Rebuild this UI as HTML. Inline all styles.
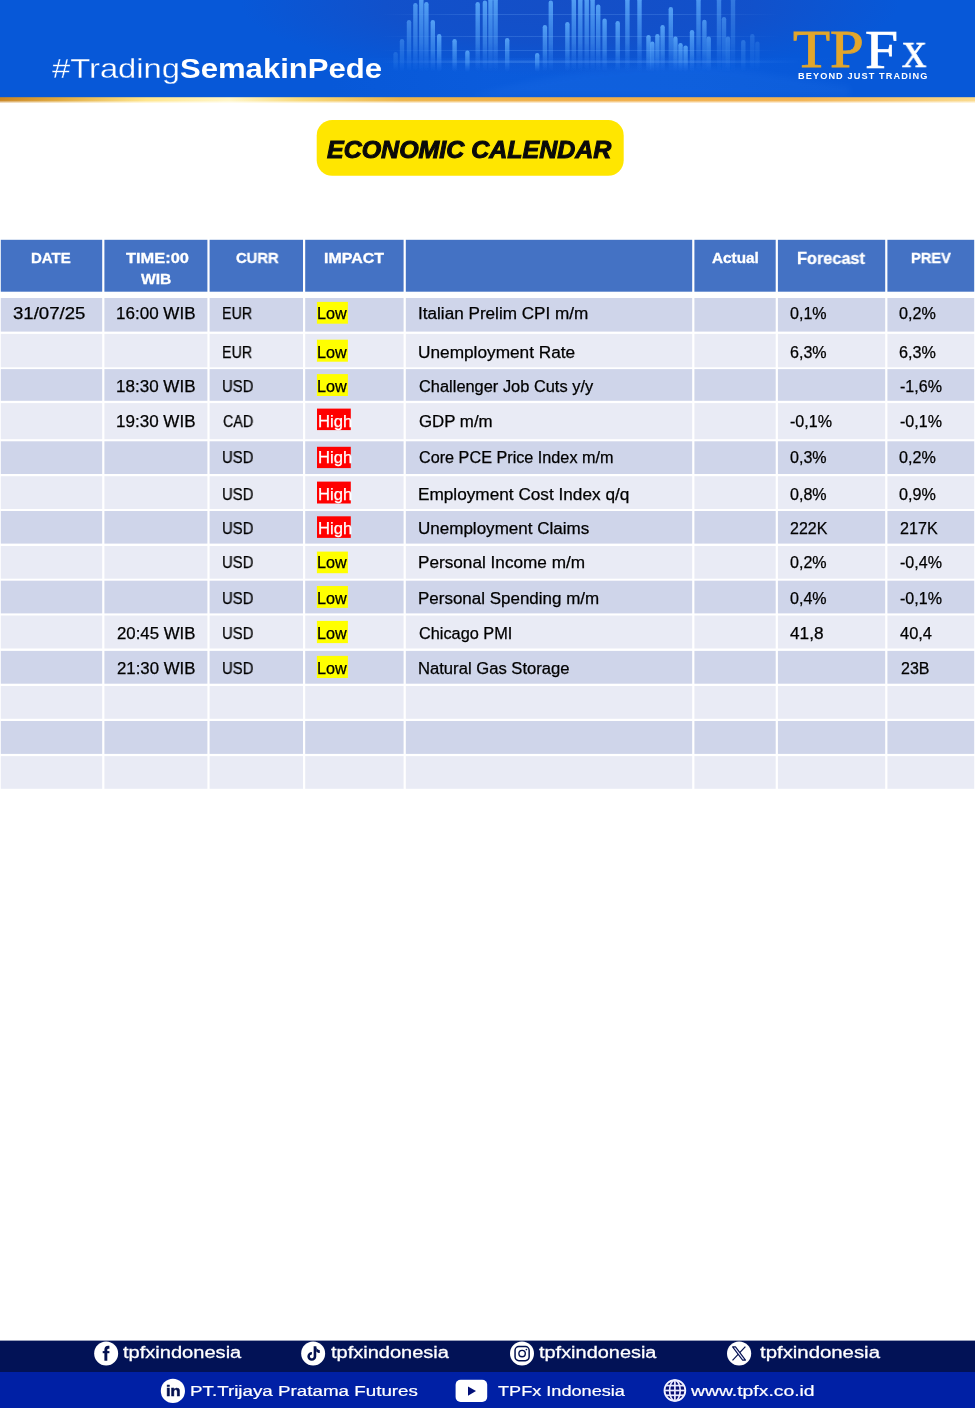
<!DOCTYPE html>
<html lang="en"><head><meta charset="utf-8"><title>Economic Calendar</title>
<style>
html,body{margin:0;padding:0;background:#fff}
body{width:975px;height:1408px;position:relative;overflow:hidden;font-family:"Liberation Sans", sans-serif}
svg.bg{position:absolute;left:0;top:0;display:block}
.t{position:absolute;white-space:nowrap;transform-origin:0 0;line-height:1;margin:0;padding:0;will-change:transform}
</style></head><body>
<svg class="bg" width="975" height="1408" viewBox="0 0 975 1408">
<defs>
<linearGradient id="gold" x1="0" x2="1" y1="0" y2="0">
<stop offset="0" stop-color="#C98522"/><stop offset="0.06" stop-color="#E0A93E"/><stop offset="0.15" stop-color="#FFE58A"/>
<stop offset="0.235" stop-color="#FFF6C8"/><stop offset="0.31" stop-color="#F8D877"/><stop offset="0.41" stop-color="#EDB54A"/>
<stop offset="0.6" stop-color="#F0AE48"/><stop offset="0.82" stop-color="#F2B352"/><stop offset="1" stop-color="#FAD98A"/>
</linearGradient>
<linearGradient id="goldfade" x1="0" x2="0" y1="0" y2="1"><stop offset="0" stop-color="#fff" stop-opacity="0"/><stop offset="1" stop-color="#fff" stop-opacity="1"/></linearGradient>
<linearGradient id="bar" x1="0" x2="0" y1="0" y2="1"><stop offset="0" stop-color="#5FAEFC" stop-opacity="0.85"/><stop offset="0.6" stop-color="#4FA0F8" stop-opacity="0.5"/><stop offset="1" stop-color="#3B8CFF" stop-opacity="0.0"/></linearGradient>
<linearGradient id="dusk" x1="0" x2="1" y1="0" y2="0"><stop offset="0" stop-color="#2A4DBE" stop-opacity="0"/><stop offset="0.2" stop-color="#2A4DBE" stop-opacity="0.4"/><stop offset="0.7" stop-color="#2A4DBE" stop-opacity="0.35"/><stop offset="1" stop-color="#2A4DBE" stop-opacity="0"/></linearGradient>
<linearGradient id="floor" x1="0" x2="1" y1="0" y2="0"><stop offset="0" stop-color="#1F6FF0" stop-opacity="0"/><stop offset="0.3" stop-color="#1F6FF0" stop-opacity="0.14"/><stop offset="0.7" stop-color="#1F6FF0" stop-opacity="0.12"/><stop offset="1" stop-color="#1F6FF0" stop-opacity="0"/></linearGradient>
<linearGradient id="gridh" x1="0" x2="1" y1="0" y2="0"><stop offset="0" stop-color="#7db8ff" stop-opacity="0"/><stop offset="0.25" stop-color="#7db8ff" stop-opacity="0.22"/><stop offset="0.75" stop-color="#7db8ff" stop-opacity="0.2"/><stop offset="1" stop-color="#7db8ff" stop-opacity="0"/></linearGradient>
<filter id="bl" x="-50%" y="-10%" width="200%" height="120%"><feGaussianBlur stdDeviation="0.7"/></filter>
<filter id="bl2" x="-10%" y="-30%" width="120%" height="160%"><feGaussianBlur stdDeviation="3"/></filter>
<radialGradient id="duskR" cx="0.5" cy="0.5" r="0.5"><stop offset="0" stop-color="#2245B5" stop-opacity="0.5"/><stop offset="0.55" stop-color="#2245B5" stop-opacity="0.38"/><stop offset="1" stop-color="#2245B5" stop-opacity="0"/></radialGradient>
</defs>
<rect x="0" y="0" width="975" height="98.5" fill="#0758D8"/>
<ellipse cx="570" cy="4" rx="330" ry="72" fill="url(#duskR)"/>
<rect x="330" y="58" width="520" height="40" fill="url(#floor)"/>
<rect x="393.4" y="52.0" width="4.4" height="20.0" rx="2.2" fill="url(#bar)" opacity="0.30" filter="url(#bl)"/>
<rect x="399.8" y="39.0" width="4.4" height="33.0" rx="2.2" fill="url(#bar)" opacity="0.49" filter="url(#bl)"/>
<rect x="406.8" y="20.0" width="4.4" height="52.0" rx="2.2" fill="url(#bar)" opacity="0.69" filter="url(#bl)"/>
<rect x="413.2" y="3.0" width="4.4" height="69.0" rx="2.2" fill="url(#bar)" opacity="0.87" filter="url(#bl)"/>
<rect x="419.1" y="-2.0" width="4.4" height="74.0" rx="2.2" fill="url(#bar)" opacity="1.00" filter="url(#bl)"/>
<rect x="424.2" y="2.0" width="4.4" height="70.0" rx="2.2" fill="url(#bar)" opacity="1.00" filter="url(#bl)"/>
<rect x="430.6" y="20.0" width="4.4" height="52.0" rx="2.2" fill="url(#bar)" opacity="1.00" filter="url(#bl)"/>
<rect x="437.0" y="34.0" width="4.4" height="38.0" rx="2.2" fill="url(#bar)" opacity="1.00" filter="url(#bl)"/>
<rect x="452.4" y="39.0" width="4.4" height="33.0" rx="2.2" fill="url(#bar)" opacity="1.00" filter="url(#bl)"/>
<rect x="465.2" y="50.6" width="4.4" height="21.4" rx="2.2" fill="url(#bar)" opacity="1.00" filter="url(#bl)"/>
<rect x="475.5" y="2.0" width="4.4" height="70.0" rx="2.2" fill="url(#bar)" opacity="1.00" filter="url(#bl)"/>
<rect x="482.7" y="0.6" width="4.4" height="71.4" rx="2.2" fill="url(#bar)" opacity="1.00" filter="url(#bl)"/>
<rect x="488.3" y="-2.0" width="4.4" height="74.0" rx="2.2" fill="url(#bar)" opacity="1.00" filter="url(#bl)"/>
<rect x="493.4" y="-2.0" width="4.4" height="74.0" rx="2.2" fill="url(#bar)" opacity="1.00" filter="url(#bl)"/>
<rect x="505.0" y="38.0" width="4.4" height="34.0" rx="2.2" fill="url(#bar)" opacity="1.00" filter="url(#bl)"/>
<rect x="535.0" y="53.0" width="4.4" height="19.0" rx="2.2" fill="url(#bar)" opacity="1.00" filter="url(#bl)"/>
<rect x="542.7" y="25.0" width="4.4" height="47.0" rx="2.2" fill="url(#bar)" opacity="1.00" filter="url(#bl)"/>
<rect x="548.6" y="0.6" width="4.4" height="71.4" rx="2.2" fill="url(#bar)" opacity="1.00" filter="url(#bl)"/>
<rect x="565.2" y="22.0" width="4.4" height="50.0" rx="2.2" fill="url(#bar)" opacity="1.00" filter="url(#bl)"/>
<rect x="571.6" y="-2.0" width="4.4" height="74.0" rx="2.2" fill="url(#bar)" opacity="1.00" filter="url(#bl)"/>
<rect x="578.1" y="-2.0" width="4.4" height="74.0" rx="2.2" fill="url(#bar)" opacity="1.00" filter="url(#bl)"/>
<rect x="584.5" y="-2.0" width="4.4" height="74.0" rx="2.2" fill="url(#bar)" opacity="1.00" filter="url(#bl)"/>
<rect x="590.4" y="-2.0" width="4.4" height="74.0" rx="2.2" fill="url(#bar)" opacity="1.00" filter="url(#bl)"/>
<rect x="596.0" y="4.4" width="4.4" height="67.6" rx="2.2" fill="url(#bar)" opacity="1.00" filter="url(#bl)"/>
<rect x="602.4" y="18.5" width="4.4" height="53.5" rx="2.2" fill="url(#bar)" opacity="1.00" filter="url(#bl)"/>
<rect x="615.5" y="21.0" width="4.4" height="51.0" rx="2.2" fill="url(#bar)" opacity="1.00" filter="url(#bl)"/>
<rect x="625.2" y="-2.0" width="4.4" height="74.0" rx="2.2" fill="url(#bar)" opacity="1.00" filter="url(#bl)"/>
<rect x="637.3" y="-2.0" width="4.4" height="74.0" rx="2.2" fill="url(#bar)" opacity="1.00" filter="url(#bl)"/>
<rect x="646.3" y="35.0" width="4.4" height="37.0" rx="2.2" fill="url(#bar)" opacity="1.00" filter="url(#bl)"/>
<rect x="650.1" y="41.6" width="4.4" height="30.4" rx="2.2" fill="url(#bar)" opacity="1.00" filter="url(#bl)"/>
<rect x="655.2" y="34.0" width="4.4" height="38.0" rx="2.2" fill="url(#bar)" opacity="1.00" filter="url(#bl)"/>
<rect x="660.4" y="25.0" width="4.4" height="47.0" rx="2.2" fill="url(#bar)" opacity="1.00" filter="url(#bl)"/>
<rect x="668.6" y="7.0" width="4.4" height="65.0" rx="2.2" fill="url(#bar)" opacity="1.00" filter="url(#bl)"/>
<rect x="673.2" y="36.5" width="4.4" height="35.5" rx="2.2" fill="url(#bar)" opacity="1.00" filter="url(#bl)"/>
<rect x="678.3" y="43.0" width="4.4" height="29.0" rx="2.2" fill="url(#bar)" opacity="1.00" filter="url(#bl)"/>
<rect x="683.4" y="45.4" width="4.4" height="26.6" rx="2.2" fill="url(#bar)" opacity="1.00" filter="url(#bl)"/>
<rect x="689.8" y="30.0" width="4.4" height="42.0" rx="2.2" fill="url(#bar)" opacity="0.98" filter="url(#bl)"/>
<rect x="696.3" y="-2.0" width="4.4" height="74.0" rx="2.2" fill="url(#bar)" opacity="0.91" filter="url(#bl)"/>
<rect x="702.2" y="19.8" width="4.4" height="52.2" rx="2.2" fill="url(#bar)" opacity="0.84" filter="url(#bl)"/>
<rect x="706.5" y="36.5" width="4.4" height="35.5" rx="2.2" fill="url(#bar)" opacity="0.79" filter="url(#bl)"/>
<rect x="716.8" y="-2.0" width="4.4" height="74.0" rx="2.2" fill="url(#bar)" opacity="0.68" filter="url(#bl)"/>
<rect x="721.8" y="17.0" width="4.4" height="55.0" rx="2.2" fill="url(#bar)" opacity="0.62" filter="url(#bl)"/>
<rect x="725.8" y="36.5" width="4.4" height="35.5" rx="2.2" fill="url(#bar)" opacity="0.58" filter="url(#bl)"/>
<rect x="730.8" y="-2.0" width="4.4" height="74.0" rx="2.2" fill="url(#bar)" opacity="0.52" filter="url(#bl)"/>
<rect x="741.1" y="40.0" width="4.4" height="32.0" rx="2.2" fill="url(#bar)" opacity="0.41" filter="url(#bl)"/>
<rect x="750.1" y="34.0" width="4.4" height="38.0" rx="2.2" fill="url(#bar)" opacity="0.31" filter="url(#bl)"/>
<rect x="755.2" y="41.6" width="4.4" height="30.4" rx="2.2" fill="url(#bar)" opacity="0.25" filter="url(#bl)"/>
<rect x="380" y="14" width="400" height="1" fill="url(#gridh)"/>
<rect x="380" y="36" width="400" height="1" fill="url(#gridh)"/>
<rect x="380" y="50" width="400" height="1" fill="url(#gridh)"/>
<rect x="380" y="60.5" width="420" height="2.5" fill="url(#gridh)" opacity="1.8"/>
<path d="M 470 96 C 560 70 640 64 700 66 C 760 70 800 80 850 86 L 850 96 Z" fill="#3C8BF5" opacity="0.10" filter="url(#bl2)"/>
<rect x="0" y="97.2" width="975" height="5.3" fill="url(#gold)"/>
<rect x="0" y="100.3" width="975" height="2.3" fill="url(#goldfade)" opacity="0.7"/>
<rect x="316.7" y="120" width="307" height="55.7" rx="15.5" fill="#FFE600"/>
<rect x="0.8" y="239.8" width="973.4" height="51.9" fill="#4472C4"/>
<rect x="0.8" y="298" width="973.4" height="33.6" fill="#CFD5EA"/>
<rect x="0.8" y="333.9" width="973.4" height="33.4" fill="#E9EBF5"/>
<rect x="0.8" y="369.1" width="973.4" height="31.7" fill="#CFD5EA"/>
<rect x="0.8" y="403.1" width="973.4" height="36.1" fill="#E9EBF5"/>
<rect x="0.8" y="441.3" width="973.4" height="32.7" fill="#CFD5EA"/>
<rect x="0.8" y="476.2" width="973.4" height="32.8" fill="#E9EBF5"/>
<rect x="0.8" y="511" width="973.4" height="32.6" fill="#CFD5EA"/>
<rect x="0.8" y="546" width="973.4" height="32.7" fill="#E9EBF5"/>
<rect x="0.8" y="580.7" width="973.4" height="32.7" fill="#CFD5EA"/>
<rect x="0.8" y="615.5" width="973.4" height="33.0" fill="#E9EBF5"/>
<rect x="0.8" y="650.9" width="973.4" height="32.8" fill="#CFD5EA"/>
<rect x="0.8" y="686" width="973.4" height="32.8" fill="#E9EBF5"/>
<rect x="0.8" y="721" width="973.4" height="32.9" fill="#CFD5EA"/>
<rect x="0.8" y="756.1" width="973.4" height="32.7" fill="#E9EBF5"/>
<rect x="102.2" y="238" width="2.2" height="552" fill="#fff"/>
<rect x="207.4" y="238" width="2.2" height="552" fill="#fff"/>
<rect x="303.0" y="238" width="2.2" height="552" fill="#fff"/>
<rect x="403.6" y="238" width="2.2" height="552" fill="#fff"/>
<rect x="692.2" y="238" width="2.2" height="552" fill="#fff"/>
<rect x="775.7" y="238" width="2.2" height="552" fill="#fff"/>
<rect x="885.2" y="238" width="2.2" height="552" fill="#fff"/>
<rect x="316.9" y="301.9" width="31" height="21.8" fill="#FFFF00"/>
<rect x="316.9" y="339.7" width="31" height="22.0" fill="#FFFF00"/>
<rect x="316.9" y="374.1" width="31" height="21.9" fill="#FFFF00"/>
<rect x="317" y="408.6" width="33.8" height="21.5" fill="#FF0000"/>
<rect x="317" y="446.8" width="33.8" height="21.3" fill="#FF0000"/>
<rect x="317" y="481.6" width="33.8" height="21.9" fill="#FF0000"/>
<rect x="317" y="516.3" width="33.8" height="21.6" fill="#FF0000"/>
<rect x="316.9" y="551.6" width="31" height="21.6" fill="#FFFF00"/>
<rect x="316.9" y="586" width="31" height="21.9" fill="#FFFF00"/>
<rect x="316.9" y="620.9" width="31" height="22.2" fill="#FFFF00"/>
<rect x="316.9" y="655.9" width="31" height="22.1" fill="#FFFF00"/>
<rect x="0" y="1340.6" width="975" height="32" fill="#021256"/>
<rect x="0" y="1372" width="975" height="36" fill="#0020A5"/>
<circle cx="106.15" cy="1353.5" r="12" fill="#fff"/>
<path d="M105.85 1360.7 V1349.6 Q105.85 1347.2 108.3 1347.2 H109.4" fill="none" stroke="#03104f" stroke-width="2.9"/>
<rect x="102.7" y="1351.1" width="6.7" height="2.1" fill="#03104f"/>
<circle cx="313.15" cy="1353.5" r="12" fill="#fff"/>
<path d="M311.9 1353.25 A3.15 3.15 0 1 0 314.95 1356.4 V1346.2" fill="none" stroke="#03104f" stroke-width="2.6"/>
<path d="M316.2 1346.0 C316.4 1348.6 317.8 1350 319.8 1350.3 V1353 C318.2 1352.9 317 1352.3 316.2 1351.4 Z" fill="#03104f"/>
<circle cx="522" cy="1353.5" r="12" fill="#fff"/>
<rect x="515.05" y="1346.55" width="14.1" height="14.1" rx="3.8" fill="none" stroke="#03104f" stroke-width="1.5"/>
<circle cx="522.1" cy="1353.6" r="3.2" fill="none" stroke="#03104f" stroke-width="1.4"/>
<circle cx="526.4" cy="1349.5" r="0.85" fill="#03104f"/>
<circle cx="739.1" cy="1353.5" r="12.1" fill="#fff"/>
<path d="M745.4 1346.6 L732.5 1360.4" stroke="#03104f" stroke-width="1.2" fill="none"/>
<path d="M732.6 1346.9 H735.5 L745.5 1360.1 H742.6 Z" fill="#e8e8ff" stroke="#03104f" stroke-width="1.1" stroke-linejoin="round"/>
<circle cx="172.9" cy="1390.9" r="12.1" fill="#fff"/>
<rect x="455.6" y="1379.8" width="31.6" height="22.1" rx="5" fill="#fff"/>
<path d="M468 1386.5 V1395.7 L476 1391.1 Z" fill="#020f78"/>
<circle cx="674.9" cy="1390.5" r="10.4" fill="#050c70" stroke="#f4f4ff" stroke-width="1.8"/>
<g fill="none" stroke="#e9e9ff" stroke-width="1.7"><path d="M674.9 1380 V1401"/><ellipse cx="674.9" cy="1390.5" rx="5.3" ry="10.4"/><path d="M664.5 1390.5 H685.3"/><path d="M665.9 1385.6 H683.9"/><path d="M665.9 1395.3 H683.9"/></g>
</svg>
<div class="t" style='left:51.55px;top:54.70px;font-size:28px;color:#ffffff;transform:scaleX(1.1696);-webkit-text-stroke:0.3px #0758D8'>#Trading</div>
<div class="t" style='left:179.60px;top:54.70px;font-size:28px;color:#ffffff;transform:scaleX(1.1095);font-weight:bold'>SemakinPede</div>
<div class="t" style='left:793.45px;top:23.10px;font-size:53px;color:#E2A62C;transform:scaleX(1.1445);font-family:"Liberation Serif", serif;-webkit-text-stroke:0.9px #E2A62C'>TP</div>
<div class="t" style='left:865.27px;top:21.60px;font-size:55px;color:#ffffff;transform:scaleX(1.0821);font-family:"Liberation Serif", serif;-webkit-text-stroke:0.7px #ffffff'>F</div>
<div class="t" style='left:902.25px;top:24.10px;font-size:52px;color:#ffffff;transform:scaleX(0.9423);font-family:"Liberation Serif", serif;-webkit-text-stroke:0.5px #ffffff'>x</div>
<div class="t" style='left:797.70px;top:72.40px;font-size:8.4px;color:#ffffff;transform:scaleX(1.0959);font-weight:bold;letter-spacing:1px'>BEYOND JUST TRADING</div>
<div class="t" style='left:327.30px;top:138.10px;font-size:24px;color:#0a0a0a;transform:scaleX(1.0402);font-weight:bold;font-style:italic;-webkit-text-stroke:1.0px #0a0a0a'>ECONOMIC CALENDAR</div>
<div class="t" style='left:31.15px;top:250.10px;font-size:15px;color:#ffffff;transform:scaleX(0.9970);font-weight:bold;-webkit-text-stroke:0.3px #ffffff'>DATE</div>
<div class="t" style='left:125.65px;top:250.10px;font-size:15px;color:#ffffff;transform:scaleX(1.0933);font-weight:bold;-webkit-text-stroke:0.3px #ffffff'>TIME:00</div>
<div class="t" style='left:140.95px;top:271.40px;font-size:15px;color:#ffffff;transform:scaleX(1.0401);font-weight:bold;-webkit-text-stroke:0.3px #ffffff'>WIB</div>
<div class="t" style='left:235.85px;top:250.10px;font-size:15px;color:#ffffff;transform:scaleX(0.9840);font-weight:bold;-webkit-text-stroke:0.3px #ffffff'>CURR</div>
<div class="t" style='left:324.09px;top:250.10px;font-size:15px;color:#ffffff;transform:scaleX(1.0648);font-weight:bold;-webkit-text-stroke:0.3px #ffffff'>IMPACT</div>
<div class="t" style='left:711.95px;top:250.30px;font-size:15px;color:#ffffff;transform:scaleX(1.0203);font-weight:bold;-webkit-text-stroke:0.3px #ffffff'>Actual</div>
<div class="t" style='left:796.56px;top:250.35px;font-size:16.5px;color:#ffffff;transform:scaleX(0.9885);font-weight:bold;-webkit-text-stroke:0.3px #ffffff'>Forecast</div>
<div class="t" style='left:910.67px;top:250.30px;font-size:15px;color:#ffffff;transform:scaleX(0.9789);font-weight:bold;-webkit-text-stroke:0.3px #ffffff'>PREV</div>
<div class="t" style='left:13.12px;top:306.40px;font-size:15.6px;color:#000;transform:scaleX(1.1921);-webkit-text-stroke:0.25px #000'>31/07/25</div>
<div class="t" style='left:116.03px;top:306.40px;font-size:15.6px;color:#000;transform:scaleX(1.0917);-webkit-text-stroke:0.25px #000'>16:00 WIB</div>
<div class="t" style='left:116.03px;top:379.00px;font-size:15.6px;color:#000;transform:scaleX(1.0917);-webkit-text-stroke:0.25px #000'>18:30 WIB</div>
<div class="t" style='left:116.03px;top:413.90px;font-size:15.6px;color:#000;transform:scaleX(1.0917);-webkit-text-stroke:0.25px #000'>19:30 WIB</div>
<div class="t" style='left:117.12px;top:625.50px;font-size:15.6px;color:#000;transform:scaleX(1.0766);-webkit-text-stroke:0.25px #000'>20:45 WIB</div>
<div class="t" style='left:117.12px;top:660.50px;font-size:15.6px;color:#000;transform:scaleX(1.0766);-webkit-text-stroke:0.25px #000'>21:30 WIB</div>
<div class="t" style='left:221.71px;top:306.40px;font-size:15.6px;color:#000;transform:scaleX(0.9143);-webkit-text-stroke:0.25px #000'>EUR</div>
<div class="t" style='left:221.71px;top:344.60px;font-size:15.6px;color:#000;transform:scaleX(0.9143);-webkit-text-stroke:0.25px #000'>EUR</div>
<div class="t" style='left:221.57px;top:379.00px;font-size:15.6px;color:#000;transform:scaleX(0.9522);-webkit-text-stroke:0.25px #000'>USD</div>
<div class="t" style='left:222.53px;top:413.90px;font-size:15.6px;color:#000;transform:scaleX(0.9170);-webkit-text-stroke:0.25px #000'>CAD</div>
<div class="t" style='left:221.57px;top:450.30px;font-size:15.6px;color:#000;transform:scaleX(0.9522);-webkit-text-stroke:0.25px #000'>USD</div>
<div class="t" style='left:221.57px;top:486.50px;font-size:15.6px;color:#000;transform:scaleX(0.9522);-webkit-text-stroke:0.25px #000'>USD</div>
<div class="t" style='left:221.57px;top:520.90px;font-size:15.6px;color:#000;transform:scaleX(0.9522);-webkit-text-stroke:0.25px #000'>USD</div>
<div class="t" style='left:221.57px;top:554.90px;font-size:15.6px;color:#000;transform:scaleX(0.9522);-webkit-text-stroke:0.25px #000'>USD</div>
<div class="t" style='left:221.57px;top:590.60px;font-size:15.6px;color:#000;transform:scaleX(0.9522);-webkit-text-stroke:0.25px #000'>USD</div>
<div class="t" style='left:221.57px;top:625.50px;font-size:15.6px;color:#000;transform:scaleX(0.9522);-webkit-text-stroke:0.25px #000'>USD</div>
<div class="t" style='left:221.57px;top:660.50px;font-size:15.6px;color:#000;transform:scaleX(0.9522);-webkit-text-stroke:0.25px #000'>USD</div>
<div class="t" style='left:317.09px;top:306.40px;font-size:15.6px;color:#000;transform:scaleX(1.0390);-webkit-text-stroke:0.25px #000'>Low</div>
<div class="t" style='left:317.09px;top:344.60px;font-size:15.6px;color:#000;transform:scaleX(1.0390);-webkit-text-stroke:0.25px #000'>Low</div>
<div class="t" style='left:317.09px;top:379.00px;font-size:15.6px;color:#000;transform:scaleX(1.0390);-webkit-text-stroke:0.25px #000'>Low</div>
<div class="t" style='left:317.56px;top:413.90px;font-size:15.6px;color:#ffffff;transform:scaleX(1.0642);-webkit-text-stroke:0.25px #ffffff'>High</div>
<div class="t" style='left:317.56px;top:450.30px;font-size:15.6px;color:#ffffff;transform:scaleX(1.0642);-webkit-text-stroke:0.25px #ffffff'>High</div>
<div class="t" style='left:317.56px;top:486.50px;font-size:15.6px;color:#ffffff;transform:scaleX(1.0642);-webkit-text-stroke:0.25px #ffffff'>High</div>
<div class="t" style='left:317.56px;top:520.90px;font-size:15.6px;color:#ffffff;transform:scaleX(1.0642);-webkit-text-stroke:0.25px #ffffff'>High</div>
<div class="t" style='left:317.09px;top:554.90px;font-size:15.6px;color:#000;transform:scaleX(1.0390);-webkit-text-stroke:0.25px #000'>Low</div>
<div class="t" style='left:317.09px;top:590.60px;font-size:15.6px;color:#000;transform:scaleX(1.0390);-webkit-text-stroke:0.25px #000'>Low</div>
<div class="t" style='left:317.09px;top:625.50px;font-size:15.6px;color:#000;transform:scaleX(1.0390);-webkit-text-stroke:0.25px #000'>Low</div>
<div class="t" style='left:317.09px;top:660.50px;font-size:15.6px;color:#000;transform:scaleX(1.0390);-webkit-text-stroke:0.25px #000'>Low</div>
<div class="t" style='left:417.63px;top:306.40px;font-size:15.6px;color:#000;transform:scaleX(1.0982);-webkit-text-stroke:0.25px #000'>Italian Prelim CPI m/m</div>
<div class="t" style='left:417.62px;top:344.60px;font-size:15.6px;color:#000;transform:scaleX(1.1059);-webkit-text-stroke:0.25px #000'>Unemployment Rate</div>
<div class="t" style='left:418.73px;top:379.00px;font-size:15.6px;color:#000;transform:scaleX(1.0519);-webkit-text-stroke:0.25px #000'>Challenger Job Cuts y/y</div>
<div class="t" style='left:418.73px;top:413.90px;font-size:15.6px;color:#000;transform:scaleX(1.0801);-webkit-text-stroke:0.25px #000'>GDP m/m</div>
<div class="t" style='left:418.73px;top:450.30px;font-size:15.6px;color:#000;transform:scaleX(1.0390);-webkit-text-stroke:0.25px #000'>Core PCE Price Index m/m</div>
<div class="t" style='left:417.62px;top:486.50px;font-size:15.6px;color:#000;transform:scaleX(1.1031);-webkit-text-stroke:0.25px #000'>Employment Cost Index q/q</div>
<div class="t" style='left:417.63px;top:520.90px;font-size:15.6px;color:#000;transform:scaleX(1.0916);-webkit-text-stroke:0.25px #000'>Unemployment Claims</div>
<div class="t" style='left:417.62px;top:554.90px;font-size:15.6px;color:#000;transform:scaleX(1.1014);-webkit-text-stroke:0.25px #000'>Personal Income m/m</div>
<div class="t" style='left:417.64px;top:590.60px;font-size:15.6px;color:#000;transform:scaleX(1.0883);-webkit-text-stroke:0.25px #000'>Personal Spending m/m</div>
<div class="t" style='left:418.73px;top:625.50px;font-size:15.6px;color:#000;transform:scaleX(1.0457);-webkit-text-stroke:0.25px #000'>Chicago PMI</div>
<div class="t" style='left:417.66px;top:660.50px;font-size:15.6px;color:#000;transform:scaleX(1.0660);-webkit-text-stroke:0.25px #000'>Natural Gas Storage</div>
<div class="t" style='left:789.92px;top:306.40px;font-size:15.6px;color:#000;transform:scaleX(1.0301);-webkit-text-stroke:0.25px #000'>0,1%</div>
<div class="t" style='left:789.92px;top:344.60px;font-size:15.6px;color:#000;transform:scaleX(1.0301);-webkit-text-stroke:0.25px #000'>6,3%</div>
<div class="t" style='left:790.12px;top:413.90px;font-size:15.6px;color:#000;transform:scaleX(1.0313);-webkit-text-stroke:0.25px #000'>-0,1%</div>
<div class="t" style='left:789.92px;top:450.30px;font-size:15.6px;color:#000;transform:scaleX(1.0301);-webkit-text-stroke:0.25px #000'>0,3%</div>
<div class="t" style='left:789.92px;top:486.50px;font-size:15.6px;color:#000;transform:scaleX(1.0301);-webkit-text-stroke:0.25px #000'>0,8%</div>
<div class="t" style='left:790.12px;top:520.90px;font-size:15.6px;color:#000;transform:scaleX(1.0252);-webkit-text-stroke:0.25px #000'>222K</div>
<div class="t" style='left:789.92px;top:554.90px;font-size:15.6px;color:#000;transform:scaleX(1.0301);-webkit-text-stroke:0.25px #000'>0,2%</div>
<div class="t" style='left:789.92px;top:590.60px;font-size:15.6px;color:#000;transform:scaleX(1.0301);-webkit-text-stroke:0.25px #000'>0,4%</div>
<div class="t" style='left:790.12px;top:625.50px;font-size:15.6px;color:#000;transform:scaleX(1.1035);-webkit-text-stroke:0.25px #000'>41,8</div>
<div class="t" style='left:899.42px;top:306.40px;font-size:15.6px;color:#000;transform:scaleX(1.0357);-webkit-text-stroke:0.25px #000'>0,2%</div>
<div class="t" style='left:899.42px;top:344.60px;font-size:15.6px;color:#000;transform:scaleX(1.0357);-webkit-text-stroke:0.25px #000'>6,3%</div>
<div class="t" style='left:899.83px;top:379.00px;font-size:15.6px;color:#000;transform:scaleX(1.0289);-webkit-text-stroke:0.25px #000'>-1,6%</div>
<div class="t" style='left:899.83px;top:413.90px;font-size:15.6px;color:#000;transform:scaleX(1.0289);-webkit-text-stroke:0.25px #000'>-0,1%</div>
<div class="t" style='left:899.42px;top:450.30px;font-size:15.6px;color:#000;transform:scaleX(1.0357);-webkit-text-stroke:0.25px #000'>0,2%</div>
<div class="t" style='left:899.42px;top:486.50px;font-size:15.6px;color:#000;transform:scaleX(1.0357);-webkit-text-stroke:0.25px #000'>0,9%</div>
<div class="t" style='left:899.83px;top:520.90px;font-size:15.6px;color:#000;transform:scaleX(1.0333);-webkit-text-stroke:0.25px #000'>217K</div>
<div class="t" style='left:899.83px;top:554.90px;font-size:15.6px;color:#000;transform:scaleX(1.0289);-webkit-text-stroke:0.25px #000'>-0,4%</div>
<div class="t" style='left:899.83px;top:590.60px;font-size:15.6px;color:#000;transform:scaleX(1.0289);-webkit-text-stroke:0.25px #000'>-0,1%</div>
<div class="t" style='left:899.83px;top:625.50px;font-size:15.6px;color:#000;transform:scaleX(1.0545);-webkit-text-stroke:0.25px #000'>40,4</div>
<div class="t" style='left:900.52px;top:660.50px;font-size:15.6px;color:#000;transform:scaleX(1.0258);-webkit-text-stroke:0.25px #000'>23B</div>
<div class="t" style='left:122.75px;top:1344.25px;font-size:17.3px;color:#ffffff;transform:scaleX(1.1611);-webkit-text-stroke:0.3px #ffffff'>tpfxindonesia</div>
<div class="t" style='left:330.55px;top:1344.25px;font-size:17.3px;color:#ffffff;transform:scaleX(1.1572);-webkit-text-stroke:0.3px #ffffff'>tpfxindonesia</div>
<div class="t" style='left:539.15px;top:1344.25px;font-size:17.3px;color:#ffffff;transform:scaleX(1.1533);-webkit-text-stroke:0.3px #ffffff'>tpfxindonesia</div>
<div class="t" style='left:760.25px;top:1344.25px;font-size:17.3px;color:#ffffff;transform:scaleX(1.1778);-webkit-text-stroke:0.3px #ffffff'>tpfxindonesia</div>
<div class="t" style='left:189.69px;top:1382.95px;font-size:15.5px;color:#ffffff;transform:scaleX(1.2119);-webkit-text-stroke:0.2px #ffffff'>PT.Trijaya Pratama Futures</div>
<div class="t" style='left:498.40px;top:1382.95px;font-size:15.5px;color:#ffffff;transform:scaleX(1.1686);-webkit-text-stroke:0.2px #ffffff'>TPFx Indonesia</div>
<div class="t" style='left:691.45px;top:1382.95px;font-size:15.5px;color:#ffffff;transform:scaleX(1.2480);-webkit-text-stroke:0.2px #ffffff'>www.tpfx.co.id</div>
<div class="t" style='left:165.51px;top:1383.65px;font-size:14.3px;color:#03104f;transform:scaleX(1.1392);font-weight:bold;-webkit-text-stroke:0.5px #03104f'>in</div>
</body></html>
